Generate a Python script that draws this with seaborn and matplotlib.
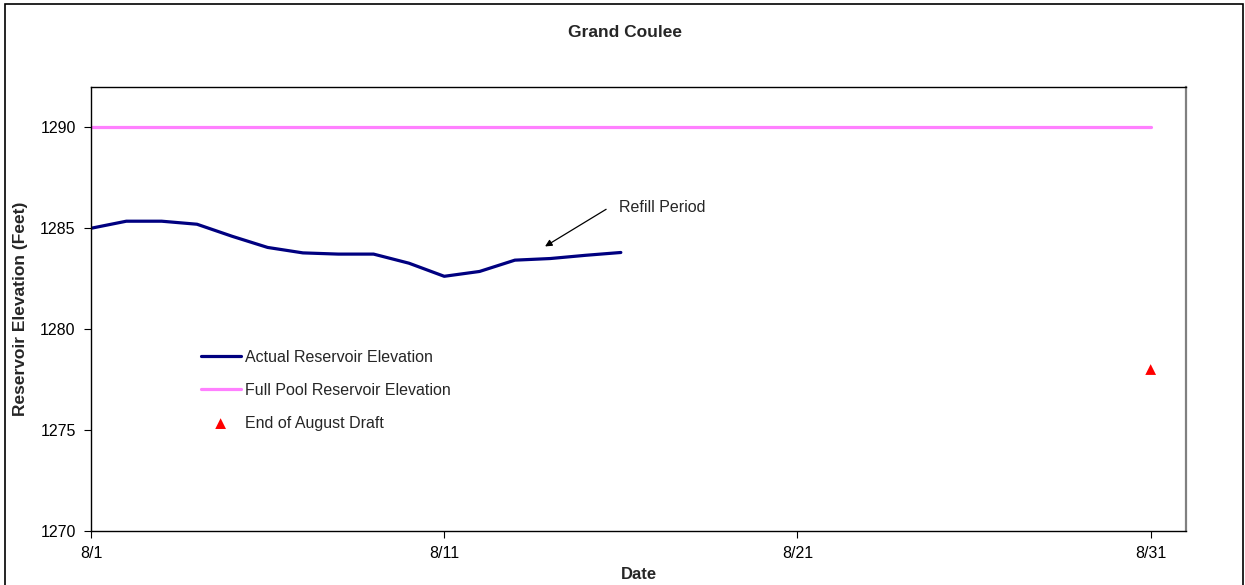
import numpy as np
import pandas as pd
import matplotlib.pyplot as plt
import seaborn as sns

# daily reservoir elevations (feet)
actual_dates = pd.date_range('2005-08-01', '2005-08-16', freq='D')
actual_elev = [1285.0, 1285.35, 1285.35, 1285.2, 1284.6, 1284.05, 1283.78, 1283.72,
               1283.72, 1283.27, 1282.62, 1282.86, 1283.42, 1283.5, 1283.66, 1283.8]

full_pool_dates = [pd.Timestamp('2005-08-01'), pd.Timestamp('2005-08-31')]
full_pool_elev = [1290, 1290]

draft_date = [pd.Timestamp('2005-08-31')]
draft_elev = [1278.0]

tick_dates = [pd.Timestamp('2005-08-01'), pd.Timestamp('2005-08-11'),
              pd.Timestamp('2005-08-21'), pd.Timestamp('2005-08-31')]
tick_labels = ['8/1', '8/11', '8/21', '8/31']

df_actual = pd.DataFrame({'Date': actual_dates, 'Elevation': actual_elev})
df_full = pd.DataFrame({'Date': full_pool_dates, 'Elevation': full_pool_elev})
df_draft = pd.DataFrame({'Date': draft_date, 'Elevation': draft_elev})

sns.set_style('white')
plt.rcParams['font.family'] = ['Liberation Sans', 'DejaVu Sans']
plt.rcParams['xtick.bottom'] = True
plt.rcParams['ytick.left'] = True

fig = plt.figure(figsize=(12.45, 5.85), dpi=100)
ax = fig.add_axes([0.0731, 0.0923, 0.8795, 0.759])

sns.lineplot(data=df_actual, x='Date', y='Elevation', ax=ax, color='#000080',
             linewidth=2.3, label='Actual Reservoir Elevation')
sns.lineplot(data=df_full, x='Date', y='Elevation', ax=ax, color='#FF80FF',
             linewidth=2.3, label='Full Pool Reservoir Elevation')
sns.scatterplot(data=df_draft, x='Date', y='Elevation', ax=ax, color='red',
                marker='^', s=60, edgecolor='none', label='End of August Draft')

ax.set_xlim(pd.Timestamp('2005-08-01'), pd.Timestamp('2005-09-01'))
ax.set_ylim(1270, 1292)
ax.set_yticks([1270, 1275, 1280, 1285, 1290])
ax.set_xticks(tick_dates)
ax.set_xticklabels(tick_labels)
ax.tick_params(axis='both', direction='out', length=5, width=0.8, color='black',
               labelsize=11.5, labelcolor='black')
ax.tick_params(axis='y', pad=6)
ax.tick_params(axis='x', pad=6)
for sp in ax.spines.values():
    sp.set_color('black')
    sp.set_linewidth(1.0)
ax.spines['right'].set_color('#808080')
ax.spines['right'].set_linewidth(1.6)

ax.set_xlabel('Date', fontsize=12, fontweight='bold', labelpad=4)
ax.set_ylabel('Reservoir Elevation (Feet)', fontsize=12.5, fontweight='bold', labelpad=9)

ax.text(pd.Timestamp('2005-08-15 23:00'), 1286.05, 'Refill Period', fontsize=11.5,
        ha='left', va='center')
ax.annotate('', xy=(pd.Timestamp('2005-08-13 20:30'), 1284.1),
            xytext=(pd.Timestamp('2005-08-15 14:00'), 1285.94),
            arrowprops=dict(arrowstyle='-|>', color='black', lw=0.9,
                            shrinkA=0, shrinkB=0, mutation_scale=10))

leg = ax.legend(loc='upper left', bbox_to_anchor=(0.087, 0.44), frameon=False,
                fontsize=11.5, handlelength=2.5, handletextpad=0.25, labelspacing=1.12)

fig.text(0.502, 0.945, 'Grand Coulee', ha='center', va='center',
         fontsize=12.5, fontweight='bold')

fig.patches.append(plt.Rectangle((0.004, -0.01), 0.994, 1.003, transform=fig.transFigure,
                                 fill=False, edgecolor='black', linewidth=1.2))

fig.savefig('out.png', dpi=100)
